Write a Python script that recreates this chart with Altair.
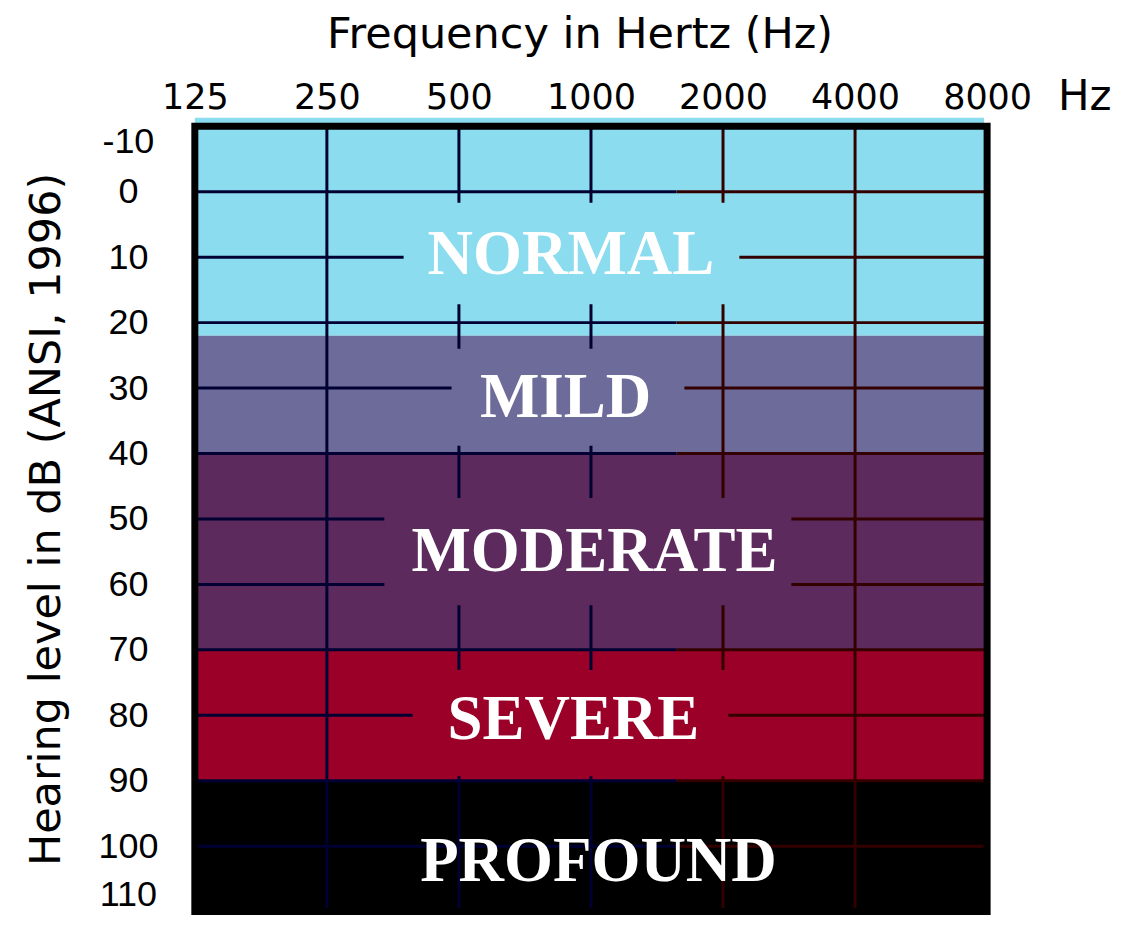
import altair as alt
import pandas as pd

# ---- data ----
FREQ_TICKS = [125, 250, 500, 1000, 2000, 4000, 8000]
DB_TICKS = [-10, 0, 10, 20, 30, 40, 50, 60, 70, 80, 90, 100, 110]

BAND_NAMES = ["NORMAL", "MILD", "MODERATE", "SEVERE", "PROFOUND"]
BAND_TOP = [-10, 22, 40, 70, 90]
BAND_BOTTOM = [22, 40, 70, 90, 110]
BAND_COLORS = ["#8bdcee", "#6d6b99", "#5c2a5c", "#9b0028", "#000000"]

# label anchor (frequency, dB of text baseline)
LABEL_FREQ = [900, 875, 1018, 912, 1040]
LABEL_DB = [12.6, 34.4, 57.9, 83.6, 105.3]

# background boxes behind the band labels (gaps in the grid)
BOX_NAMES = ["NORMAL", "MILD", "MODERATE", "SEVERE"]
BOX_F1 = [374, 481, 338, 392]
BOX_F2 = [2179, 1633, 2863, 2056]
BOX_DB1 = [1.7, 24.0, 46.8, 73.1]
BOX_DB2 = [17.2, 38.8, 63.2, 89.3]
BOX_COLORS = ["#8bdcee", "#6d6b99", "#5c2a5c", "#9b0028"]

GRID_DB = [0, 10, 20, 30, 40, 50, 60, 70, 80, 90, 100]
GRID_SPLIT_FREQ = 1566
NAVY = "#000033"
MAROON = "#330000"
NAVY_FREQS = [250, 500, 1000]
MAROON_FREQS = [2000, 4000, 8000]

# ---- tables ----
bands = pd.DataFrame({"name": BAND_NAMES, "top": BAND_TOP, "bottom": BAND_BOTTOM,
                      "color": BAND_COLORS, "f1": 125, "f2": 8000})
strip = pd.DataFrame({"f1": [125], "f2": [7870], "top": [-11.3], "bottom": [-10],
                      "color": [BAND_COLORS[0]]})
frame = pd.DataFrame({"f1": [125], "f2": [8000], "top": [-10], "bottom": [110]})
hrows = []
for d in GRID_DB:
    hrows.append({"f1": 125, "f2": GRID_SPLIT_FREQ, "db": d, "color": NAVY})
    hrows.append({"f1": GRID_SPLIT_FREQ, "f2": 8000, "db": d, "color": MAROON})
hgrid = pd.DataFrame(hrows)
vgrid = pd.DataFrame({"f": NAVY_FREQS + MAROON_FREQS,
                      "top": -10, "bottom": 110,
                      "color": [NAVY] * 3 + [MAROON] * 3})
boxes = pd.DataFrame({"name": BOX_NAMES, "f1": BOX_F1, "f2": BOX_F2,
                      "top": BOX_DB1, "bottom": BOX_DB2, "color": BOX_COLORS})
labels = pd.DataFrame({"name": BAND_NAMES, "f": LABEL_FREQ, "db": LABEL_DB})
unit = pd.DataFrame({"f": [8000], "db": [-10], "t": ["Hz"]})

# ---- scales / axes ----
xs = alt.Scale(type="log", base=2, domain=[125, 8000], nice=False)
ys = alt.Scale(domain=[-10, 110], reverse=True, nice=False, zero=False)

ax = alt.Axis(orient="top", values=FREQ_TICKS, labelExpr="datum.value + ''",
              title="Frequency in Hertz (Hz)",
              grid=False, ticks=False, tickSize=0, domain=False,
              labelFont="DejaVu Sans", labelFontSize=35, labelColor="black",
              labelPadding=11, labelFlush=False, labelOverlap=False,
              titleFont="DejaVu Sans", titleFontSize=43, titleFontWeight="normal",
              titleColor="black", titleX=385, titleY=-79, titleAlign="center",
              titleBaseline="alphabetic")
ay = alt.Axis(orient="left", values=DB_TICKS, labelExpr="datum.value + ''",
              title="Hearing level in dB (ANSI, 1996)",
              grid=False, ticks=False, tickSize=0, domain=False,
              labelFont="Liberation Sans", labelFontSize=36, labelColor="black",
              labelAlign="center", labelPadding=67, labelFlush=True,
              labelFlushOffset=2, labelOverlap=False,
              titleFont="DejaVu Sans", titleFontSize=43, titleFontWeight="normal",
              titleColor="black", titleAngle=270, titleX=-135, titleY=393,
              titleAlign="center", titleBaseline="alphabetic")


def X(f):
    return alt.X(f, type="quantitative", scale=xs, axis=ax)


def Y(f):
    return alt.Y(f, type="quantitative", scale=ys, axis=ay)


band_layer = alt.Chart(bands).mark_rect().encode(
    x=X("f1"), x2="f2", y=Y("top"), y2="bottom",
    color=alt.Color("color:N", scale=None))

strip_layer = alt.Chart(strip).mark_rect().encode(
    x=X("f1"), x2="f2", y=Y("top"), y2="bottom",
    color=alt.Color("color:N", scale=None))

h_layer = alt.Chart(hgrid).mark_rule(strokeWidth=3).encode(
    x=X("f1"), x2="f2", y=Y("db"),
    color=alt.Color("color:N", scale=None))

v_layer = alt.Chart(vgrid).mark_rule(strokeWidth=3).encode(
    x=X("f"), y=Y("top"), y2="bottom",
    color=alt.Color("color:N", scale=None))

box_layer = alt.Chart(boxes).mark_rect().encode(
    x=X("f1"), x2="f2", y=Y("top"), y2="bottom",
    color=alt.Color("color:N", scale=None))

text_layer = alt.Chart(labels).mark_text(
    font="Liberation Serif", fontWeight="bold", fontSize=63, color="white",
    align="center", baseline="alphabetic").encode(
    x=X("f"), y=Y("db"), text="name:N")

frame_layer = alt.Chart(frame).mark_rect(
    filled=False, stroke="black", strokeWidth=7).encode(
    x=X("f1"), x2="f2", y=Y("top"), y2="bottom")

unit_layer = alt.Chart(unit).mark_text(
    font="DejaVu Sans", fontSize=42, color="black", align="left",
    baseline="alphabetic", dx=71, dy=-16).encode(
    x=X("f"), y=Y("db"), text="t:N")

chart = alt.layer(band_layer, strip_layer, h_layer, v_layer, box_layer,
                  text_layer, frame_layer, unit_layer).properties(
    width=793, height=786,
    padding={"left": 187, "top": 118, "right": 127, "bottom": 4},
    autosize=alt.AutoSizeParams(type="none"),
    background="white",
).configure_view(strokeWidth=0)

chart.save("out.html", embed_options={"renderer": "svg", "actions": False})
